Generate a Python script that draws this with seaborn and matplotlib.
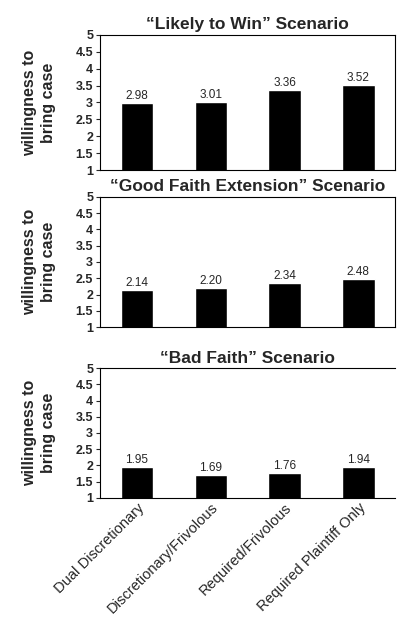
import pandas as pd
import matplotlib
matplotlib.use("Agg")
import matplotlib.pyplot as plt
import seaborn as sns

sns.set_style("white")
plt.rcParams["font.family"] = ["Liberation Sans", "DejaVu Sans"]

categories = ["Dual Discretionary", "Discretionary/Frivolous",
              "Required/Frivolous", "Required Plaintiff Only"]
titles = ["\u201cLikely to Win\u201d Scenario",
          "\u201cGood Faith Extension\u201d Scenario",
          "\u201cBad Faith\u201d Scenario"]
likely_win = [2.98, 3.01, 3.36, 3.52]
good_faith = [2.14, 2.20, 2.34, 2.48]
bad_faith = [1.95, 1.69, 1.76, 1.94]
yticks = [1, 1.5, 2, 2.5, 3, 3.5, 4, 4.5, 5]
ytick_labels = ["1", "1.5", "2", "2.5", "3", "3.5", "4", "4.5", "5"]

series = [likely_win, good_faith, bad_faith]

fig = plt.figure(figsize=(4.02, 6.23), dpi=100)
# axes boxes in figure fraction: left, bottom, width, height
boxes = [(0.249, 0.727, 0.734, 0.217),
         (0.249, 0.475, 0.734, 0.209),
         (0.249, 0.201, 0.734, 0.208)]

for i, (vals, title, box) in enumerate(zip(series, titles, boxes)):
    ax = fig.add_axes(box)
    df = pd.DataFrame({"cat": categories, "val": vals})
    sns.barplot(data=df, x="cat", y="val", color="black", width=0.44,
                saturation=1, ax=ax)
    ax.set_ylim(1, 5)
    ax.set_xlim(-0.5, 3.5)
    ax.set_yticks(yticks)
    ax.set_yticklabels(ytick_labels, fontsize=9, fontweight="bold")
    ax.tick_params(axis="y", length=3, width=0.8, pad=2, left=True)
    ax.set_title(title, fontsize=12.5, fontweight="bold", pad=4)
    ax.set_ylabel("willingness to\nbring case", fontsize=11.5,
                  fontweight="bold", labelpad=14, linespacing=1.3)
    ax.set_xlabel("")
    ax.bar_label(ax.containers[0], labels=[f"{v:.2f}" for v in vals],
                 fontsize=8.5, padding=1)
    for s in ax.spines.values():
        s.set_color("black")
        s.set_linewidth(0.8)
    if i < 2:
        ax.set_xticklabels([])
        ax.tick_params(axis="x", length=0)
    else:
        ax.spines["right"].set_visible(False)
        ax.set_xticklabels(categories, rotation=45, ha="right",
                           rotation_mode="anchor", fontsize=10.5)
        ax.tick_params(axis="x", length=0, pad=2)

fig.savefig("out.png", dpi=100)
